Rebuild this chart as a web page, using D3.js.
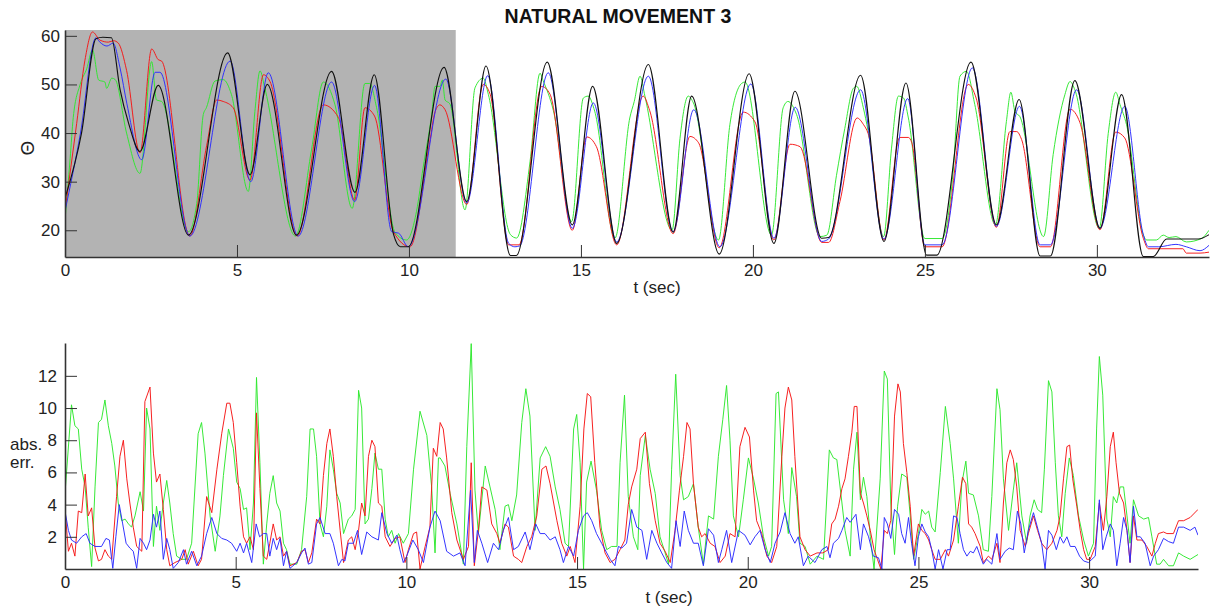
<!DOCTYPE html>
<html>
<head>
<meta charset="utf-8">
<script src="https://cdn.jsdelivr.net/npm/d3@7"></script>
<style>
  html, body { margin: 0; padding: 0; background: #fff; }
  svg { display: block; font-family: "Liberation Sans", Arial, Helvetica, sans-serif; }
  .axis path, .axis line { stroke: #333; }
  .axis text { fill: #222; font-size: 17px; font-family: "Liberation Sans", Arial, sans-serif; }
</style>
</head>
<body>
<svg id="chart" width="1222" height="610"></svg>
<script>
// ---- Joint angle Θ (deg) over time: [t (sec), value] ----
const refTheta = [[0,26.6],[0.48,40],[0.9,59.4],[1.1,59.7],[1.35,59.6],[1.6,49],[1.85,42],[2.18,36.2],[2.71,49.8],[3.59,19.0],[4.73,56.5],[5.38,31.4],[5.88,50.0],[6.73,19.0],[7.75,52.7],[8.43,27.8],[8.99,52.0],[9.55,19.2],[9.75,16.6],[9.98,16.6],[11.02,53.5],[11.68,25.9],[12.24,53.8],[12.95,14.8],[13.12,14.8],[14.02,54.6],[14.75,21.1],[15.34,49.6],[16.04,17.3],[16.96,54.1],[17.68,19.6],[18.22,47.6],[19.02,15.1],[19.89,52.2],[20.61,17.3],[21.22,48.6],[22.0,18.35],[22.2,18.5],[23.13,51.9],[23.81,17.7],[24.45,50.3],[25.05,14.9],[25.35,14.9],[26.34,54.6],[27.08,21.1],[27.74,46.9],[28.35,14.7],[28.65,14.7],[29.36,50.8],[30.09,20.4],[30.72,47.9],[31.35,14.6],[31.64,14.6],[32.03,18.2],[32.95,18.2],[33.26,19.1]];

const blueTheta = [[0,23.9],[0.45,40],[0.9,59.6],[1.0,58.8],[1.22,57.9],[1.4,58.5],[1.6,53.4],[1.8,46],[2.23,34.5],[2.62,52.5],[2.76,52.5],[3.63,18.8],[4.80,54.8],[5.40,30.0],[5.91,52.4],[6.78,18.8],[7.75,50.5],[8.42,25.9],[9.0,49.8],[9.5,19.7],[9.7,19.4],[9.98,16.6],[11.07,51.1],[11.68,25.6],[12.29,51.8],[12.9,17.3],[13.08,16.6],[13.22,16.8],[14.05,52.4],[14.75,20.4],[15.36,46.2],[16.04,17.6],[16.96,51.7],[17.68,19.7],[18.28,44.8],[19.04,16.6],[19.94,50.1],[20.61,18.35],[21.23,45.3],[22.0,17.7],[22.2,18.2],[23.13,48.9],[23.81,18.2],[24.5,47.1],[25.0,17.0],[25.5,17.0],[26.38,53.4],[27.08,20.8],[27.75,45.5],[28.35,17.0],[28.65,17.0],[29.41,48.9],[30.09,20.4],[30.81,45.5],[31.34,19.4],[31.5,16.6],[31.8,16.6],[32.3,17.1],[32.6,16.6],[33.0,15.8],[33.26,16.9]];

const redTheta = [[0,24.0],[0.34,42],[0.58,55],[0.8,60.8],[1.02,59.1],[1.26,58.7],[1.41,59.0],[1.55,58.5],[1.79,52.9],[2.18,35.9],[2.52,57.3],[2.71,55.1],[2.81,54.8],[3.63,18.8],[4.12,37.5],[4.41,46.8],[4.6,46.5],[4.89,45.2],[5.38,30.3],[5.77,52.0],[5.96,50.6],[6.75,18.8],[7.51,45.8],[7.95,43.2],[8.42,26.2],[8.72,45.2],[9.0,43.5],[9.55,19.7],[10.03,16.6],[10.6,38],[10.76,44.4],[10.9,45.8],[11.05,44.8],[11.68,25.3],[12.16,50.0],[12.36,48.0],[12.9,17.0],[13.2,17.0],[13.86,49.6],[14.1,48.0],[14.75,20.0],[15.17,39.2],[15.45,37.2],[16.04,17.0],[16.81,47.6],[17.0,44.6],[17.68,19.3],[18.17,39.3],[18.42,38.0],[19.02,16.4],[19.72,44.3],[20.06,42.3],[20.61,18.0],[21.08,37.7],[21.37,37.2],[22.0,17.5],[22.2,17.5],[22.53,25.9],[23.03,43.1],[23.21,41.8],[23.35,39.9],[23.81,18.0],[24.27,39.1],[24.52,39.1],[24.62,38.0],[25.0,16.6],[25.5,16.6],[26.26,50.0],[26.49,47.2],[27.08,20.6],[27.47,40.3],[27.67,40.3],[27.81,38.7],[28.35,16.6],[28.65,16.6],[29.22,44.9],[29.51,42.1],[30.09,20.1],[30.55,40.2],[30.81,39.0],[31.35,18.35],[31.5,16.2],[32.5,16.2],[32.6,15.3],[33.0,15.3],[33.26,15.5]];

const greenTheta = [[0,22.1],[0.15,34.8],[0.24,43.2],[0.44,50.0],[0.63,53.2],[0.8,57.1],[0.98,50.9],[1.16,50.5],[1.21,49.2],[1.36,51.3],[1.46,51.0],[1.79,40.0],[2.18,31.7],[2.52,54.7],[2.66,46.8],[2.81,46.5],[3.59,19.7],[3.83,25.5],[4.02,43.8],[4.11,45.2],[4.36,50.7],[4.6,51.0],[4.84,47.9],[5.33,28.0],[5.52,44.4],[5.67,52.8],[5.81,49.2],[6.7,18.8],[7.17,36.7],[7.51,50.5],[7.85,45.8],[8.35,24.5],[8.72,50.2],[8.86,50.2],[9.06,45.2],[9.6,19.5],[9.93,18.0],[10.22,23.9],[10.41,32.8],[10.66,43.8],[10.76,49.6],[10.9,49.6],[10.97,50.9],[11.05,46.8],[11.19,46.0],[11.63,24.2],[11.92,49.3],[12.16,51.3],[12.31,47.9],[12.95,19.1],[13.13,18.4],[13.52,34.1],[13.81,52.3],[13.9,50.8],[14.2,44.6],[14.73,21.8],[15.07,47.2],[15.21,47.6],[15.40,44.5],[15.99,18.4],[16.42,43.1],[16.55,46.5],[16.72,51.7],[16.86,47.6],[17.65,20.0],[17.88,38.9],[18.12,47.6],[18.27,46.2],[19.0,18.0],[19.33,41.7],[19.67,50.2],[19.77,50.5],[20.54,19.0],[20.88,45.2],[21.02,46.5],[21.27,43.8],[21.95,18.7],[22.15,19.0],[22.43,31.3],[22.67,40.9],[22.92,49.2],[23.02,49.6],[23.21,45.2],[23.35,40.4],[23.8,18.7],[24.03,36.9],[24.23,47.6],[24.38,47.2],[24.52,43.1],[25.0,18.3],[25.5,18.3],[25.82,32.0],[26.02,51.7],[26.21,52.7],[26.45,45.9],[27.05,21.1],[27.37,42.4],[27.5,48.4],[27.62,44.4],[27.76,43.4],[28.45,18.7],[28.73,35.6],[29.07,47.9],[29.22,50.6],[29.36,48.9],[30.07,20.4],[30.33,39.9],[30.55,48.4],[30.67,45.9],[30.86,41.8],[31.35,19.0],[31.45,18.0],[31.73,18.0],[31.93,19.0],[32.1,18.5],[32.3,18.7],[32.6,17.6],[33.04,18.3],[33.26,20.0]];

// ---- Absolute error against the reference angle: [t (sec), value] ----
const greenErr = [[0,4.7],[0.19,10.2],[0.29,8.9],[0.39,8.7],[0.49,6.2],[0.59,5.1],[0.68,2.6],[0.78,0.15],[0.88,5.1],[0.98,9.1],[1.07,9.3],[1.17,10.5],[1.27,8.9],[1.37,7.8],[1.46,6.4],[1.56,4.1],[1.66,3.0],[1.76,3.1],[1.86,2.8],[1.95,2.6],[2.05,3.3],[2.2,4.8],[2.3,3.6],[2.39,10.0],[2.49,8.7],[2.59,1.4],[2.68,3.9],[2.78,2.4],[2.88,4.1],[2.98,5.5],[3.07,4.1],[3.17,2.2],[3.27,0.8],[3.42,0.6],[3.56,0.6],[3.71,1.6],[3.9,8.4],[4.0,9.1],[4.1,7.2],[4.25,3.3],[4.4,1.1],[4.54,3.3],[4.64,5.8],[4.79,8.7],[4.93,7.5],[5.03,5.4],[5.13,5.0],[5.23,3.7],[5.32,3.8],[5.42,1.2],[5.52,4.1],[5.61,11.9],[5.71,6.6],[5.81,0.3],[5.91,2.8],[6.0,4.7],[6.1,5.8],[6.2,4.1],[6.3,3.6],[6.4,1.6],[6.49,1.2],[6.59,0.3],[6.79,0.3],[6.93,1.2],[7.08,4.5],[7.18,8.7],[7.28,8.7],[7.37,7.0],[7.47,2.8],[7.57,2.0],[7.67,3.9],[7.76,7.4],[7.86,6.2],[7.96,4.7],[8.06,4.1],[8.16,2.2],[8.3,3.1],[8.4,3.3],[8.5,3.7],[8.6,11.1],[8.69,10.0],[8.79,2.8],[8.89,3.1],[8.99,5.0],[9.08,7.2],[9.18,6.2],[9.28,6.2],[9.38,3.1],[9.47,2.0],[9.57,2.4],[9.67,1.6],[9.77,2.2],[9.91,1.6],[10.06,2.2],[10.21,6.2],[10.4,9.8],[10.6,8.3],[10.74,5.1],[10.84,1.0],[10.94,6.9],[10.99,6.9],[11.13,6.4],[11.28,4.7],[11.48,2.8],[11.67,0.3],[11.77,7.6],[11.9,14.0],[12.01,4.9],[12.11,2.2],[12.31,6.4],[12.45,5.1],[12.6,3.7],[12.74,1.2],[12.89,3.9],[12.99,4.0],[13.09,3.0],[13.23,4.6],[13.38,9.1],[13.5,11.2],[13.62,9.5],[13.77,2.4],[13.92,6.9],[14.08,7.6],[14.21,7.0],[14.36,5.1],[14.5,3.7],[14.65,1.6],[14.75,1.4],[14.9,8.7],[14.99,9.6],[15.09,6.6],[15.19,0.0],[15.28,5.4],[15.41,6.7],[15.57,4.9],[15.72,2.4],[15.87,1.2],[16.01,1.4],[16.17,1.4],[16.26,6.6],[16.39,10.8],[16.5,4.5],[16.65,2.0],[16.78,1.2],[16.85,5.8],[17.0,8.3],[17.14,6.2],[17.29,4.7],[17.43,2.0],[17.58,1.0],[17.68,0.3],[17.77,6.2],[17.89,12.1],[18.02,5.8],[18.12,4.3],[18.26,4.5],[18.41,5.3],[18.55,2.6],[18.7,0.3],[18.85,3.3],[19.0,3.1],[19.14,7.0],[19.27,9.3],[19.38,11.4],[19.48,8.0],[19.58,3.3],[19.73,2.0],[19.87,4.3],[20.02,6.9],[20.17,5.6],[20.31,4.1],[20.46,2.0],[20.61,0.8],[20.7,1.4],[20.83,10.9],[20.9,11.0],[21.05,4.3],[21.19,2.2],[21.29,6.3],[21.43,4.5],[21.53,1.6],[21.68,1.4],[21.83,0.3],[22.03,0.8],[22.22,0.6],[22.39,7.4],[22.51,6.9],[22.61,6.8],[22.76,4.1],[22.85,2.4],[23.0,0.8],[23.1,6.2],[23.2,8.5],[23.3,4.3],[23.39,5.7],[23.49,4.5],[23.59,2.0],[23.7,0.0],[23.88,5.6],[24.0,12.3],[24.09,11.8],[24.19,4.1],[24.3,0.9],[24.39,3.9],[24.51,5.9],[24.66,5.7],[24.76,3.3],[24.86,0.6],[25.0,2.2],[25.1,3.7],[25.2,3.4],[25.3,3.6],[25.39,2.6],[25.49,2.3],[25.64,6.0],[25.79,10.1],[25.93,7.8],[26.03,5.6],[26.17,1.6],[26.27,5.3],[26.39,6.7],[26.47,4.7],[26.61,4.6],[26.76,3.3],[26.9,1.2],[27.05,1.1],[27.15,4.5],[27.3,11.2],[27.39,9.9],[27.49,5.6],[27.64,2.4],[27.78,4.9],[27.88,6.6],[28.03,3.3],[28.17,1.6],[28.27,3.3],[28.39,4.3],[28.49,3.7],[28.61,3.5],[28.69,6.2],[28.81,11.7],[28.91,11.0],[29.01,6.6],[29.1,3.3],[29.2,2.0],[29.3,4.7],[29.42,6.9],[29.54,5.8],[29.69,3.3],[29.84,1.8],[29.98,0.8],[30.13,1.6],[30.22,8.7],[30.3,13.2],[30.4,10.8],[30.52,3.1],[30.62,2.0],[30.71,4.5],[30.81,4.1],[30.91,5.1],[31.01,5.1],[31.11,3.3],[31.2,1.6],[31.3,4.3],[31.45,3.3],[31.6,3.1],[31.74,3.2],[31.84,2.0],[31.98,0.3],[32.08,0.3],[32.18,0.6],[32.33,0.2],[32.47,0.2],[32.62,1.0],[32.77,0.8],[32.96,0.6],[33.19,0.9]];

const redErr = [[0,3.7],[0.1,1.1],[0.19,1.6],[0.29,0.8],[0.39,3.6],[0.49,3.5],[0.59,5.9],[0.68,3.3],[0.78,3.8],[0.88,1.3],[0.98,0.5],[1.07,0.6],[1.17,1.2],[1.27,0.8],[1.37,0.6],[1.51,4.5],[1.61,7.0],[1.71,8.0],[1.81,5.6],[1.9,4.1],[2.0,2.6],[2.1,1.4],[2.25,1.1],[2.34,10.4],[2.49,11.3],[2.59,7.2],[2.68,5.4],[2.78,5.9],[2.88,3.7],[2.98,1.2],[3.07,0.2],[3.22,0.4],[3.42,0.6],[3.52,1.2],[3.61,0.3],[3.76,1.1],[3.9,0.2],[4.0,0.6],[4.15,4.5],[4.3,3.5],[4.45,6.2],[4.59,8.4],[4.74,10.3],[4.83,10.3],[4.93,9.1],[5.03,6.6],[5.13,3.9],[5.23,2.0],[5.32,1.6],[5.42,2.0],[5.52,1.2],[5.61,9.7],[5.71,5.0],[5.81,0.8],[5.91,0.6],[6.0,1.6],[6.1,2.8],[6.2,1.8],[6.3,2.0],[6.4,0.8],[6.49,1.1],[6.59,0.2],[6.79,0.4],[6.93,1.1],[7.03,1.2],[7.13,0.4],[7.23,1.0],[7.37,3.1],[7.47,2.8],[7.57,5.8],[7.67,7.8],[7.76,8.7],[7.86,7.0],[7.96,4.5],[8.06,2.4],[8.16,0.4],[8.3,1.8],[8.4,2.0],[8.5,1.2],[8.6,2.4],[8.69,4.1],[8.79,3.3],[8.89,7.0],[8.99,8.0],[9.08,7.6],[9.18,4.1],[9.28,3.9],[9.38,2.0],[9.52,1.4],[9.67,1.9],[9.81,2.0],[9.96,0.4],[10.06,1.2],[10.21,2.2],[10.3,2.3],[10.4,0.0],[10.55,1.4],[10.69,2.6],[10.79,7.5],[10.89,7.0],[10.99,9.1],[11.08,8.7],[11.18,6.9],[11.33,3.5],[11.48,1.8],[11.67,0.6],[11.82,1.4],[11.9,6.6],[11.99,0.2],[12.11,2.4],[12.21,5.1],[12.36,4.9],[12.5,2.8],[12.65,2.2],[12.74,1.6],[12.89,2.8],[12.99,2.6],[13.14,0.8],[13.28,0.6],[13.38,0.4],[13.53,1.4],[13.67,2.0],[13.82,3.3],[13.97,6.2],[14.09,6.4],[14.21,5.3],[14.41,3.0],[14.55,1.6],[14.7,0.8],[14.8,1.4],[14.94,0.4],[15.09,3.9],[15.2,8.7],[15.3,10.9],[15.4,10.7],[15.52,6.6],[15.67,2.6],[15.82,1.0],[15.97,0.4],[16.11,0.6],[16.26,1.2],[16.4,1.8],[16.5,4.0],[16.6,5.1],[16.75,6.2],[16.85,8.1],[17.0,8.5],[17.12,5.3],[17.29,3.0],[17.43,1.6],[17.58,1.1],[17.73,0.4],[17.87,2.4],[18.0,4.9],[18.12,7.0],[18.22,9.1],[18.31,8.7],[18.41,5.3],[18.55,2.6],[18.65,2.0],[18.75,2.2],[18.9,1.6],[19.04,1.4],[19.19,0.4],[19.34,0.8],[19.48,2.2],[19.63,2.0],[19.77,7.6],[19.92,8.8],[20.05,8.2],[20.17,4.9],[20.26,3.0],[20.41,2.2],[20.56,0.8],[20.7,0.4],[20.85,1.4],[21.0,7.0],[21.09,10.0],[21.19,11.3],[21.29,10.5],[21.38,7.0],[21.53,2.0],[21.68,1.2],[21.83,0.8],[22.03,1.0],[22.2,1.0],[22.36,1.2],[22.46,2.8],[22.56,3.1],[22.66,3.9],[22.76,5.0],[22.85,5.6],[22.95,7.0],[23.05,8.5],[23.12,10.1],[23.2,10.1],[23.3,4.7],[23.39,4.1],[23.49,3.3],[23.59,2.4],[23.7,1.2],[23.8,0.6],[23.9,0.0],[24.0,2.4],[24.09,2.2],[24.19,3.0],[24.3,9.5],[24.4,11.5],[24.47,11.0],[24.56,7.8],[24.66,6.0],[24.76,3.9],[24.86,0.8],[25.0,2.8],[25.1,2.4],[25.2,2.2],[25.3,1.8],[25.39,1.2],[25.49,0.6],[25.64,0.6],[25.79,1.2],[25.88,0.8],[26.03,1.8],[26.17,3.9],[26.29,5.7],[26.39,5.3],[26.47,2.8],[26.56,2.6],[26.66,2.2],[26.81,1.4],[26.9,0.4],[27.05,0.8],[27.15,0.6],[27.3,1.6],[27.39,0.4],[27.49,4.1],[27.59,6.6],[27.69,7.4],[27.78,6.8],[27.88,5.1],[27.98,2.4],[28.13,1.4],[28.22,2.2],[28.37,3.3],[28.49,2.4],[28.61,1.6],[28.76,1.2],[28.91,1.6],[29.06,2.4],[29.15,3.3],[29.25,5.6],[29.35,7.6],[29.43,7.7],[29.52,5.6],[29.64,3.9],[29.74,2.4],[29.84,1.2],[29.93,0.6],[30.03,0.6],[30.18,1.4],[30.3,4.1],[30.42,2.4],[30.52,4.5],[30.62,7.6],[30.71,8.5],[30.79,6.6],[30.89,4.7],[31.01,4.1],[31.11,2.4],[31.2,0.4],[31.3,3.3],[31.4,1.8],[31.55,1.8],[31.69,1.4],[31.84,0.8],[31.94,1.6],[32.03,2.2],[32.18,2.3],[32.28,2.2],[32.47,2.2],[32.62,3.0],[32.77,3.0],[32.96,3.2],[33.19,3.7]];

const blueErr = [[0,3.6],[0.1,2.4],[0.19,1.8],[0.34,1.6],[0.49,2.0],[0.62,2.2],[0.73,1.6],[0.88,1.4],[1.07,1.4],[1.2,1.9],[1.3,1.8],[1.4,0.04],[1.49,2.0],[1.59,4.0],[1.69,2.8],[1.79,1.6],[1.9,1.3],[2.0,1.1],[2.1,0.04],[2.2,1.9],[2.3,1.6],[2.39,1.2],[2.49,1.8],[2.59,3.4],[2.68,2.6],[2.78,3.6],[2.88,0.6],[2.98,1.9],[3.07,1.2],[3.17,0.04],[3.32,0.4],[3.47,1.2],[3.56,0.3],[3.71,1.1],[3.86,0.2],[4.0,0.8],[4.15,2.2],[4.3,3.2],[4.45,2.2],[4.59,1.9],[4.74,1.8],[4.88,1.6],[5.03,1.1],[5.13,1.6],[5.23,1.0],[5.32,1.6],[5.47,0.4],[5.6,2.8],[5.7,2.0],[5.81,2.2],[5.91,2.2],[6.0,0.8],[6.1,1.9],[6.2,1.2],[6.3,1.9],[6.4,0.2],[6.49,1.1],[6.59,0.04],[6.79,0.4],[6.93,1.0],[7.03,1.3],[7.13,0.3],[7.23,0.4],[7.37,2.8],[7.47,3.2],[7.62,2.2],[7.76,2.2],[7.86,1.6],[8.01,0.2],[8.11,0.6],[8.2,0.5],[8.3,1.6],[8.45,1.6],[8.57,2.4],[8.69,0.9],[8.84,2.3],[8.99,2.0],[9.18,1.8],[9.28,3.5],[9.43,2.2],[9.57,1.6],[9.72,2.1],[9.81,1.2],[9.91,0.4],[10.01,0.8],[10.19,1.8],[10.35,1.2],[10.5,0.4],[10.69,2.6],[10.84,3.6],[10.99,3.0],[11.18,1.1],[11.38,0.8],[11.57,1.0],[11.72,0.2],[11.88,4.9],[11.99,0.4],[12.08,2.4],[12.21,1.6],[12.38,0.4],[12.55,1.6],[12.7,1.2],[12.84,2.4],[12.99,3.2],[13.14,1.2],[13.28,1.4],[13.48,2.3],[13.62,1.2],[13.79,2.8],[13.92,2.2],[14.06,2.2],[14.21,1.8],[14.36,2.0],[14.5,1.2],[14.6,0.4],[14.75,1.4],[14.9,0.8],[15.04,2.4],[15.19,3.3],[15.3,3.5],[15.43,3.0],[15.57,2.2],[15.72,1.6],[15.87,1.0],[15.97,0.6],[16.11,0.2],[16.21,1.4],[16.31,1.3],[16.45,1.6],[16.6,3.7],[16.75,2.6],[16.9,2.4],[17.04,0.6],[17.19,2.4],[17.34,1.6],[17.48,1.0],[17.63,0.4],[17.77,0.04],[17.9,3.0],[18.02,1.4],[18.14,3.6],[18.26,2.4],[18.41,1.6],[18.55,1.6],[18.7,0.2],[18.85,2.5],[19.0,2.1],[19.14,0.4],[19.24,1.2],[19.38,2.4],[19.53,0.4],[19.73,2.4],[19.92,2.1],[20.07,1.5],[20.21,2.0],[20.36,2.4],[20.51,1.2],[20.66,0.4],[20.8,1.6],[20.95,2.3],[21.09,3.5],[21.24,2.2],[21.38,1.6],[21.48,2.0],[21.63,0.2],[21.77,0.8],[21.97,0.4],[22.02,0.6],[22.17,1.2],[22.32,1.4],[22.41,0.7],[22.51,1.6],[22.66,1.9],[22.76,2.4],[22.9,3.2],[23.0,2.9],[23.17,3.4],[23.3,1.2],[23.39,2.8],[23.54,2.0],[23.68,0.8],[23.83,0.7],[23.93,0.0],[24.0,3.2],[24.09,2.8],[24.19,1.9],[24.3,3.7],[24.42,3.4],[24.51,2.2],[24.61,1.6],[24.71,3.2],[24.8,1.6],[24.9,0.2],[25.0,2.0],[25.1,2.8],[25.2,2.3],[25.3,2.0],[25.39,1.2],[25.49,0.0],[25.59,1.2],[25.72,0.0],[25.84,1.2],[25.93,1.2],[26.03,3.3],[26.13,3.2],[26.22,2.2],[26.32,1.2],[26.42,0.8],[26.52,1.1],[26.61,1.0],[26.71,1.4],[26.81,0.8],[26.9,0.3],[27.0,0.6],[27.15,0.3],[27.3,2.2],[27.39,0.6],[27.54,1.1],[27.66,1.3],[27.78,1.2],[27.9,3.6],[28.0,2.8],[28.1,1.0],[28.22,2.4],[28.37,3.5],[28.51,2.4],[28.61,1.6],[28.71,0.0],[28.81,2.4],[28.91,2.1],[29.04,1.2],[29.15,2.0],[29.25,1.6],[29.35,2.0],[29.45,1.4],[29.59,1.4],[29.72,0.8],[29.84,0.5],[29.98,0.4],[30.08,0.6],[30.18,0.8],[30.3,4.3],[30.4,1.2],[30.5,2.0],[30.62,2.8],[30.71,2.4],[30.81,0.2],[30.91,1.6],[31.01,3.2],[31.11,2.4],[31.2,0.4],[31.3,3.9],[31.4,2.0],[31.5,2.0],[31.64,1.6],[31.79,0.2],[31.89,0.8],[32.03,1.2],[32.18,1.9],[32.33,1.7],[32.47,1.6],[32.62,2.6],[32.77,2.6],[32.96,2.4],[33.1,2.6],[33.19,2.1]];

// ---- Axis settings ----
const thetaTicks = [20, 30, 40, 50, 60];
const errTicks = [2, 4, 6, 8, 10, 12];
const timeTicks = [0, 5, 10, 15, 20, 25, 30];
const trainingSpan = [0, 11.36];   // shaded interval (sec)

const svg = d3.select("#chart");

// ---------- Top panel: Θ over time ----------
const xTop = d3.scaleLinear().domain([0, 33.26]).range([65, 1209]);
const yTop = d3.scaleLinear().domain([14.5, 61.2]).range([257, 30]);

const defs = svg.append("defs");
defs.append("clipPath").attr("id", "clipTop")
  .append("rect").attr("x", 65).attr("y", 30).attr("width", 1144).attr("height", 227);
defs.append("clipPath").attr("id", "clipBot")
  .append("rect").attr("x", 65).attr("y", 343).attr("width", 1133).attr("height", 226);

svg.append("rect")
  .attr("x", xTop(trainingSpan[0])).attr("y", yTop(61.2))
  .attr("width", xTop(trainingSpan[1]) - xTop(trainingSpan[0]))
  .attr("height", yTop(14.5) - yTop(61.2))
  .attr("fill", "#b3b3b3");

const lineTop = d3.line().x(d => xTop(d[0])).y(d => yTop(d[1])).curve(d3.curveMonotoneX);
const gTop = svg.append("g").attr("clip-path", "url(#clipTop)");
[[greenTheta, "#2de82d", 0.95], [redTheta, "#f51515", 0.95], [blueTheta, "#2a2aff", 0.95], [refTheta, "#111", 1.15]]
  .forEach(([data, color, w]) => {
    gTop.append("path").datum(data)
      .attr("fill", "none").attr("stroke", color).attr("stroke-width", w)
      .attr("stroke-linejoin", "round").attr("d", lineTop);
  });

svg.append("g").attr("class", "axis")
  .attr("transform", "translate(0,257)")
  .call(d3.axisBottom(xTop).tickValues(timeTicks).tickSizeInner(-12).tickSizeOuter(0).tickPadding(7))
  .call(g => g.select(".domain").attr("stroke-width", 1.6));
svg.append("g").attr("class", "axis")
  .attr("transform", "translate(65,0)")
  .call(d3.axisLeft(yTop).tickValues(thetaTicks).tickSizeInner(-12).tickSizeOuter(0).tickPadding(5))
  .call(g => g.select(".domain").attr("stroke-width", 1.6));

svg.append("text").attr("x", 618).attr("y", 23).attr("text-anchor", "middle")
  .attr("font-size", 19.5).attr("font-weight", "bold").attr("fill", "#111")
  .text("NATURAL MOVEMENT 3");
svg.append("text").attr("x", 657).attr("y", 293).attr("text-anchor", "middle")
  .attr("font-size", 17).attr("fill", "#222").text("t (sec)");
svg.append("text").attr("transform", "translate(34,148) rotate(-90)")
  .attr("text-anchor", "middle").attr("font-size", 19).attr("fill", "#222").text("Θ");

// ---------- Bottom panel: absolute error ----------
const xBot = d3.scaleLinear().domain([0, 33.19]).range([65, 1198]);
const yBot = d3.scaleLinear().domain([0, 14.04]).range([569, 343]);

const lineBot = d3.line().x(d => xBot(d[0])).y(d => yBot(d[1]));
const gBot = svg.append("g").attr("clip-path", "url(#clipBot)");
[[greenErr, "#2de82d"], [redErr, "#f51515"], [blueErr, "#2a2aff"]]
  .forEach(([data, color]) => {
    gBot.append("path").datum(data)
      .attr("fill", "none").attr("stroke", color).attr("stroke-width", 0.95)
      .attr("stroke-linejoin", "round").attr("d", lineBot);
  });

svg.append("g").attr("class", "axis")
  .attr("transform", "translate(0,569)")
  .call(d3.axisBottom(xBot).tickValues(timeTicks).tickSizeInner(-12).tickSizeOuter(0).tickPadding(7))
  .call(g => g.select(".domain").attr("stroke-width", 1.6));
svg.append("g").attr("class", "axis")
  .attr("transform", "translate(65,0)")
  .call(d3.axisLeft(yBot).tickValues(errTicks).tickSizeInner(-12).tickSizeOuter(0).tickPadding(8))
  .call(g => g.select(".domain").attr("stroke-width", 1.6));

svg.append("text").attr("x", 669).attr("y", 603).attr("text-anchor", "middle")
  .attr("font-size", 17).attr("fill", "#222").text("t (sec)");
svg.append("text").attr("x", 10).attr("y", 450).attr("font-size", 17).attr("fill", "#222").text("abs.");
svg.append("text").attr("x", 10).attr("y", 468).attr("font-size", 17).attr("fill", "#222").text("err.");
</script>
</body>
</html>
